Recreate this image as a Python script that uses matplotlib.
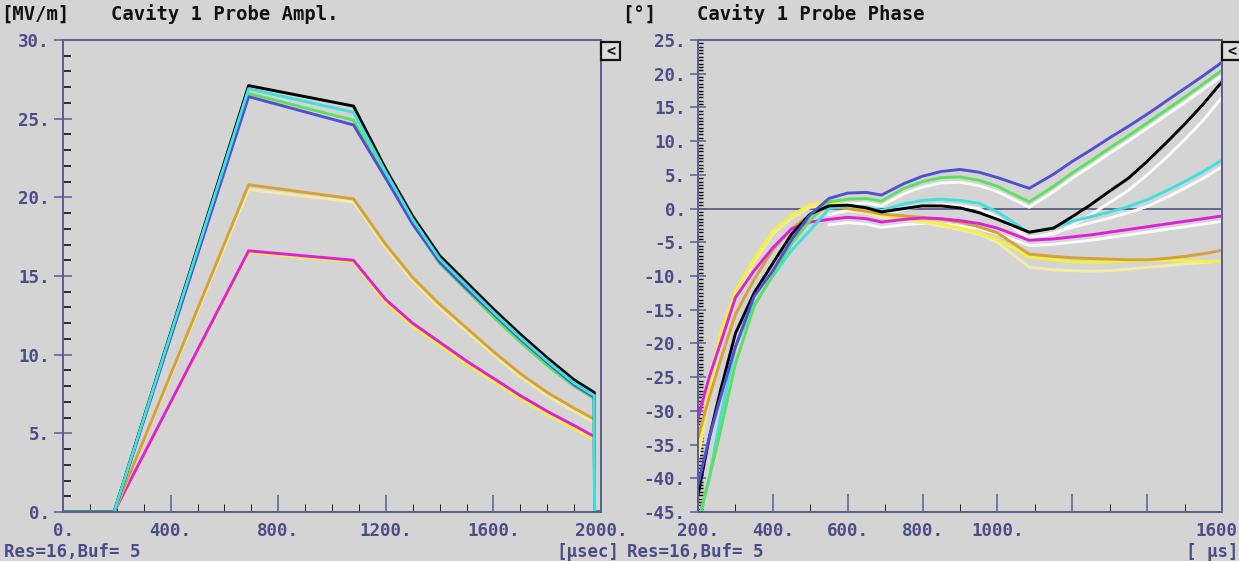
import matplotlib
matplotlib.use("Agg")
import matplotlib.pyplot as plt
from matplotlib.patches import Rectangle
from matplotlib.transforms import ScaledTranslation

plt.rcParams['font.family'] = ['DejaVu Sans Mono']
plt.rcParams['font.weight'] = 'bold'

W, H = 1239, 561
BG = '#d4d4d4'
AXC = '#5c5c8e'
LBL = '#4c4c88'

# ---- amplitude panel data (time in usec, MV/m) ----
t_amp = [0, 190, 690, 1080, 1200, 1300, 1400, 1500, 1600, 1700, 1800, 1900, 1975, 1976, 2000]
amp_black = [0, 0, 27.1, 25.8, 21.8, 18.8, 16.3, 14.6, 12.9, 11.3, 9.8, 8.4, 7.6, 0, 0]
amp_cyan = [0, 0, 26.9, 25.4, 21.6, 18.6, 16.1, 14.4, 12.7, 11.1, 9.6, 8.2, 7.4, 0, 0]
amp_green = [0, 0, 26.6, 24.9, 21.3, 18.3, 15.8, 14.1, 12.4, 10.8, 9.3, 8.0, 7.2, 0, 0]
amp_blue = [0, 0, 26.4, 24.6, 21.2, 18.3, 15.9, 14.2, 12.6, 11.0, 9.5, 8.1, 7.3, 0, 0]
amp_orange = [0, 0, 20.8, 19.9, 17.0, 14.9, 13.2, 11.7, 10.2, 8.8, 7.6, 6.6, 5.9, 0, 0]
amp_pale = [0, 0, 20.5, 19.7, 16.8, 14.7, 13.0, 11.5, 10.0, 8.6, 7.4, 6.4, 5.7, 0, 0]
amp_magenta = [0, 0, 16.6, 16.0, 13.5, 12.0, 10.8, 9.6, 8.5, 7.4, 6.4, 5.5, 4.8, 0, 0]
amp_yellow = [0, 0, 16.5, 15.9, 13.3, 11.8, 10.6, 9.4, 8.3, 7.2, 6.2, 5.3, 4.6, 0, 0]

# ---- phase panel data (time in us, degrees) ----
t_ph = [200, 230, 260, 300, 350, 400, 450, 500, 550, 600, 650, 690, 750, 800, 850,
        900, 950, 1000, 1085, 1150, 1200, 1250, 1300, 1350, 1400, 1450, 1500, 1550, 1600]
ph_blue = [-41, -34, -28, -20.5, -13, -9.2, -4.6, -0.9, 1.5, 2.3, 2.4, 2.0, 3.7, 4.8, 5.5,
           5.8, 5.4, 4.6, 3.0, 5.1, 7.0, 8.7, 10.5, 12.2, 14.0, 15.9, 17.8, 19.7, 21.7]
ph_green = [-46.5, -40, -33, -23, -14.5, -9.8, -5.2, -1.7, 1.0, 1.4, 1.5, 1.1, 3.0, 4.0, 4.6,
            4.7, 4.2, 3.3, 1.0, 3.3, 5.3, 7.1, 9.0, 10.8, 12.7, 14.6, 16.5, 18.5, 20.5]
ph_black = [-42.5, -34, -27, -18.5, -12.5, -8.1, -3.8, -0.8, 0.4, 0.5, 0.1, -0.5, 0.0, 0.4, 0.4,
            0.1, -0.6, -1.6, -3.5, -2.9, -1.2, 0.6, 2.6, 4.5, 7.0, 9.7, 12.5, 15.5, 18.8]
ph_cyan = [-47, -40, -31, -20.5, -14.2, -10.0, -6.2, -3.2, 0.0, 0.5, 0.2, -0.3, 0.7, 1.2, 1.4,
           1.2, 0.8, -0.5, -3.6, -2.8, -1.9, -1.2, -0.5, 0.3, 1.3, 2.6, 4.0, 5.5, 7.2]
ph_magenta = [-31, -25, -20, -13.2, -9.2, -5.8, -3.0, -2.0, -1.6, -1.3, -1.5, -2.0, -1.6, -1.4, -1.5,
              -1.8, -2.2, -2.9, -4.7, -4.5, -4.2, -3.9, -3.5, -3.1, -2.7, -2.3, -1.9, -1.5, -1.1]
ph_orange = [-34, -28, -22.5, -15.7, -10.5, -6.1, -3.0, -0.9, 0.3, 0.0, -0.4, -0.8, -1.1, -1.3, -1.6,
             -2.0, -2.7, -3.6, -6.75, -7.1, -7.3, -7.4, -7.5, -7.6, -7.6, -7.4, -7.1, -6.7, -6.2]
ph_yellow = [-36, -26.5, -18.5, -12.2, -7.5, -3.3, -1.0, 0.6, 0.9, 0.4, -0.3, -0.9, -1.4, -1.7, -2.3,
             -2.9, -3.6, -4.6, -7.2, -7.6, -7.9, -8.0, -7.9, -7.8, -7.7, -7.7, -7.7, -7.8, -7.9]
ph_pale = [-37, -28, -20, -13, -8.0, -3.8, -1.4, 0.2, 0.5, 0.0, -0.7, -1.3, -1.8, -2.1, -2.6,
           -3.1, -3.8, -5.0, -8.7, -9.1, -9.2, -9.3, -9.2, -9.0, -8.7, -8.5, -8.2, -8.0, -7.8]

t_w = [550, 600, 650, 690, 750, 800, 850, 900, 950, 1000, 1085,
       1150, 1200, 1250, 1300, 1350, 1400, 1450, 1500, 1550, 1600]
ph_white_g = [0.3, 0.7, 0.8, 0.4, 2.2, 3.2, 3.8, 3.9, 3.4, 2.5, 0.2,
              2.5, 4.5, 6.3, 8.2, 10.0, 11.9, 13.8, 15.7, 17.7, 19.7]
ph_white_c = [-0.9, -0.3, -0.6, -1.1, -0.1, 0.4, 0.6, 0.4, 0.0, -1.3, -4.4,
              -3.6, -2.8, -2.1, -1.4, -0.6, 0.3, 1.6, 3.0, 4.5, 6.2]
ph_white_m = [-2.4, -2.1, -2.3, -2.8, -2.4, -2.2, -2.3, -2.6, -3.0, -3.7, -5.5,
              -5.3, -5.0, -4.7, -4.3, -3.9, -3.5, -3.1, -2.7, -2.3, -1.9]
t_wk = [1085, 1150, 1200, 1250, 1300, 1350, 1400, 1450, 1500, 1550, 1600]
ph_white_k = [-4.2, -3.8, -2.5, -0.9, 0.9, 2.7, 5.0, 7.5, 10.2, 13.1, 16.5]

# tick labels
amp_xticks = [0, 400, 800, 1200, 1600, 2000]
amp_xlabels = ['0.', '400.', '800.', '1200.', '1600.', '2000.']
amp_yticks = [0, 5, 10, 15, 20, 25, 30]
amp_ylabels = ['0.', '5.', '10.', '15.', '20.', '25.', '30.']
ph_xticks = [200, 400, 600, 800, 1000, 1200, 1400, 1600]
ph_xlabels = ['200.', '400.', '600.', '800.', '1000.', '', '', '1600']
ph_yticks = [-45, -40, -35, -30, -25, -20, -15, -10, -5, 0, 5, 10, 15, 20, 25]
ph_ylabels = ['-45.', '-40.', '-35.', '-30.', '-25.', '-20.', '-15.', '-10.',
              '-5.', '0.', '5.', '10.', '15.', '20.', '25.']

C_BLACK = '#000000'
C_CYAN = '#3ee0e0'
C_GREEN = '#5ee05e'
C_BLUE = '#5050d0'
C_ORANGE = '#d4a238'
C_PALE = '#f2eaa8'
C_MAG = '#e020d8'
C_YEL = '#f4f040'
C_WHITE = '#fafafa'

fig = plt.figure(figsize=(W / 100, H / 100), dpi=100, facecolor=BG)
axL = fig.add_axes([63 / W, 1 - 512 / H, 538 / W, 472 / H], facecolor=BG)
axR = fig.add_axes([698 / W, 1 - 512 / H, 524 / W, 472 / H], facecolor=BG)

lw = 2.1
axL.plot(t_amp, amp_yellow, color=C_YEL, lw=lw)
axL.plot(t_amp, amp_magenta, color=C_MAG, lw=lw)
axL.plot(t_amp, amp_pale, color=C_PALE, lw=lw)
axL.plot(t_amp, amp_orange, color=C_ORANGE, lw=lw)
axL.plot(t_amp, amp_green, color=C_GREEN, lw=lw)
axL.plot(t_amp, amp_blue, color=C_BLUE, lw=lw)
axL.plot(t_amp, amp_black, color=C_BLACK, lw=lw)
axL.plot(t_amp, amp_cyan, color=C_CYAN, lw=lw)

axR.axhline(0, color=AXC, lw=1.3, zorder=1)
axR.plot(t_w, ph_white_g, color=C_WHITE, lw=lw)
axR.plot(t_w, ph_white_c, color=C_WHITE, lw=lw)
axR.plot(t_w, ph_white_m, color=C_WHITE, lw=lw)
axR.plot(t_wk, ph_white_k, color=C_WHITE, lw=lw)
axR.plot(t_ph, ph_pale, color=C_PALE, lw=lw)
axR.plot(t_ph, ph_yellow, color=C_YEL, lw=lw)
axR.plot(t_ph, ph_orange, color=C_ORANGE, lw=lw)
axR.plot(t_ph, ph_magenta, color=C_MAG, lw=lw)
axR.plot(t_ph, ph_cyan, color=C_CYAN, lw=lw)
axR.plot(t_ph, ph_green, color=C_GREEN, lw=lw)
axR.plot(t_ph, ph_black, color=C_BLACK, lw=lw)
axR.plot(t_ph, ph_blue, color=C_BLUE, lw=lw)

fs = 13.6
fs_tick = 12.6
for ax in (axL, axR):
    for s in ax.spines.values():
        s.set_color(AXC)
        s.set_linewidth(1.4)
    ax.tick_params(colors=AXC, labelcolor=LBL, labelsize=fs_tick, width=1.1)

axL.set_xlim(0, 2000)
axL.set_ylim(0, 30)
axL.set_xticks(amp_xticks, amp_xlabels)
axL.set_xticks(range(0, 2001, 100), minor=True)
axL.set_yticks(amp_yticks, amp_ylabels)
axL.set_yticks(range(0, 31), minor=True)
axL.tick_params(axis='x', which='major', direction='in', length=12, pad=7.5)
axL.tick_params(axis='x', which='minor', direction='in', length=6)
axL.tick_params(axis='y', which='major', direction='inout', length=13, pad=3)
axL.tick_params(axis='y', which='minor', direction='in', length=6, width=1.1)

axR.set_xlim(200, 1600)
axR.set_ylim(-45, 25)
axR.set_xticks(ph_xticks, ph_xlabels)
axR.set_xticks(range(300, 1600, 200), minor=True)
axR.set_yticks(ph_yticks, ph_ylabels)
axR.set_yticks([v / 2 for v in range(-90, 51)], minor=True)
axR.tick_params(axis='x', which='major', direction='in', length=13, pad=7.5)
axR.tick_params(axis='x', which='minor', direction='in', length=6)
axR.tick_params(axis='y', which='major', direction='inout', length=12, pad=3)
axR.tick_params(axis='y', which='minor', direction='in', length=3.5, width=1.0)
lab = axR.get_xticklabels()[-1]
lab.set_transform(lab.get_transform() + ScaledTranslation(-6 / 100, 0, fig.dpi_scale_trans))

# header and footer texts
def fx(px):
    return px / W

def fy(py):
    return 1 - py / H

fig.text(fx(1), fy(14), '[MV/m]', ha='left', va='center', fontsize=fs, color='#111111')
fig.text(fx(111), fy(14), 'Cavity 1 Probe Ampl.', ha='left', va='center', fontsize=fs, color='#111111')
fig.text(fx(622), fy(14), '[°]', ha='left', va='center', fontsize=fs, color='#111111')
fig.text(fx(697), fy(14), 'Cavity 1 Probe Phase', ha='left', va='center', fontsize=fs, color='#111111')
fig.text(fx(4), 0.0, 'Res=16,Buf= 5', ha='left', va='bottom', fontsize=fs_tick, color=LBL)
fig.text(fx(619), 0.0, '[µsec]', ha='right', va='bottom', fontsize=fs_tick, color=LBL)
fig.text(fx(627), 0.0, 'Res=16,Buf= 5', ha='left', va='bottom', fontsize=fs_tick, color=LBL)
fig.text(fx(1238), 0.0, '[ µs]', ha='right', va='bottom', fontsize=fs_tick, color=LBL)

# small "<" buttons
for bx in (601, 1222):
    fig.add_artist(Rectangle((fx(bx), fy(60)), 19 / W, 18 / H, transform=fig.transFigure,
                             facecolor='#dcdcdc', edgecolor='#111111', lw=1.6))
    fig.text(fx(bx + 9.5), fy(51), '<', ha='center', va='center', fontsize=11, color='#111111')

fig.savefig('out.png', dpi=100, facecolor=BG)
